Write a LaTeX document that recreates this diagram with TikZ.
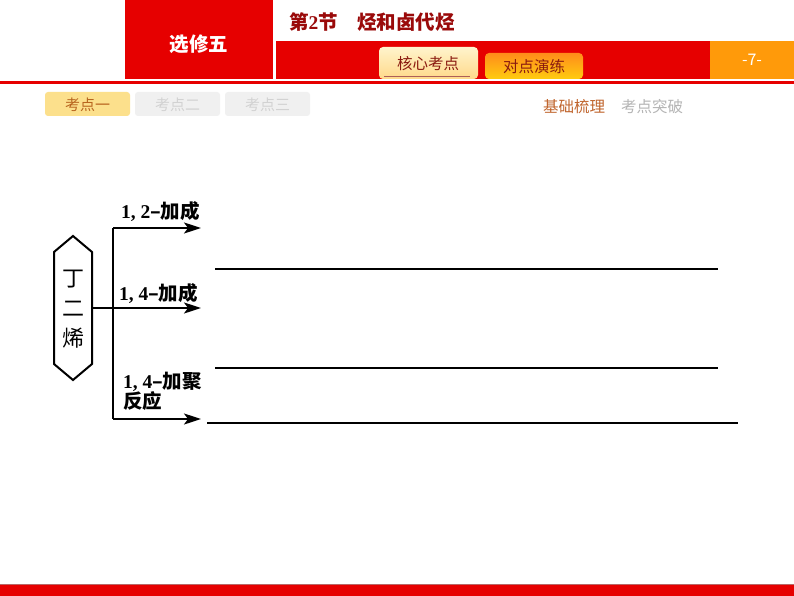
\documentclass[tikz,border=0pt]{standalone}
\usepackage{fontspec}
\setmainfont{Liberation Serif}
\newfontfamily\cjk{Noto Sans CJK SC}
\usetikzlibrary{arrows.meta}
\definecolor{hred}{HTML}{E60000}
\definecolor{hdark}{HTML}{9A0A0A}
\definecolor{tabink}{HTML}{8A1A10}
\definecolor{horange}{HTML}{FF9A0A}
\definecolor{tabyel}{HTML}{FCE08C}
\definecolor{tabtxt}{HTML}{B8651F}
\definecolor{tabgray}{HTML}{F0F0F0}
\definecolor{tabgtxt}{HTML}{D2D2D2}
\definecolor{navon}{HTML}{C0642C}
\definecolor{navoff}{HTML}{B4B4B4}
\definecolor{creamtop}{HTML}{FFF4CC}
\definecolor{creambot}{HTML}{FFD98A}
\definecolor{ortop}{HTML}{FF8C1A}
\definecolor{orbot}{HTML}{FFCC10}
\begin{document}
\begin{tikzpicture}[x=1pt,y=-1pt,
  every node/.style={inner sep=0pt, outer sep=0pt},
  hdrtxt/.style={font=\cjk\bfseries\fontsize{19.5}{22}\selectfont, text=white},
  titletxt/.style={font=\cjk\bfseries\fontsize{19.5}{22}\selectfont, text=hdark},
  toptab/.style={font=\cjk\fontsize{15.5}{17}\selectfont, text=tabink},
  subtab/.style={font=\cjk\fontsize{15}{17}\selectfont},
  navtxt/.style={font=\cjk\fontsize{15.5}{17}\selectfont},
  lbl/.style={font=\bfseries\fontsize{19.5}{21}\selectfont},
  conn/.style={line width=1.8pt, -{Stealth[length=17pt,width=11pt,inset=4pt]}},
  plain/.style={line width=1.8pt},
  blank/.style={line width=1.4pt}
]
\useasboundingbox (0,0) rectangle (794,596);
\fill[white] (0,0) rectangle (794,596);
% header
\fill[hred] (125,0) rectangle (273,79);
\node[hdrtxt] (sec) at (199,44) {选修五};
\node[titletxt, anchor=west] (title) at (289,22) {第{\rmfamily 2}节\hspace{1em}烃和卤代烃};
\fill[hred] (276,41) rectangle (710,79);
\fill[horange] (710,41) rectangle (794,79);
\node[font=\cjk\fontsize{16}{18}\selectfont, text=white] (page) at (752,60) {-7-};
\shade[top color=creamtop, bottom color=creambot, rounded corners=4pt] (379,79) -- (379,47) -- (478,47) -- (478,79) -- cycle;
\node[toptab] (tab1) at (428,64) {核心考点};
\draw[tabink!70, line width=0.8pt] (384,76) -- (470,76);
\shade[top color=ortop, bottom color=orbot, rounded corners=4pt] (485,79) -- (485,53) -- (583,53) -- (583,79) -- cycle;
\node[toptab] (tab2) at (534,67) {对点演练};
\fill[hred] (0,81) rectangle (794,84.5);
% sub tabs
\fill[tabyel, rounded corners=3pt] (45,92) rectangle (130,116);
\node[subtab, text=tabtxt] (k1) at (87.5,104.5) {考点一};
\fill[tabgray, rounded corners=3pt] (135,92) rectangle (220,116);
\node[subtab, text=tabgtxt] (k2) at (177.5,104.5) {考点二};
\fill[tabgray, rounded corners=3pt] (225,92) rectangle (310,116);
\node[subtab, text=tabgtxt] (k3) at (267.5,104.5) {考点三};
\node[navtxt, text=navon] (n1) at (574,107) {基础梳理};
\node[navtxt, text=navoff] (n2) at (652,107) {考点突破};
% bottom bar
\fill[hred] (0,584) rectangle (794,596);
\draw[hred!60!black!60, line width=0.6pt] (0,584) -- (794,584);
% diagram
\node[minimum width=38pt, minimum height=144pt] (hex) at (73,308) {};
\draw[line width=2pt] (hex.north) -- (54,252) -- (54,364) -- (hex.south) -- (92,364) -- (92,252) -- cycle;
\node[font=\cjk\fontsize{22}{30}\selectfont, align=center] (hextxt) at (73,309) {丁\\二\\烯};
\coordinate (hr) at (92,308);
\coordinate (jt) at (113,228);
\coordinate (jm) at (113,308);
\coordinate (jb) at (113,419);
\coordinate (at) at (201,228);
\coordinate (am) at (201,308);
\coordinate (ab) at (201,419);
\draw[plain] (jt) -- (jb);
\draw[conn] (jt) -- (at);
\draw[conn] (hr) -- (am);
\draw[conn] (jb) -- (ab);
\node[lbl, anchor=west] (l1) at (121,212) {1, 2{\cjk –加成}};
\node[lbl, anchor=west] (l2) at (119,294) {1, 4{\cjk –加成}};
\node[lbl, anchor=west, align=left] (l3) at (123,391) {1, 4{\cjk –加聚}\\[-1pt]{\cjk 反应}};
\coordinate (b1a) at (215,269); \coordinate (b1b) at (718,269);
\coordinate (b2a) at (215,368); \coordinate (b2b) at (718,368);
\coordinate (b3a) at (207,423); \coordinate (b3b) at (738,423);
\draw[blank] (b1a) -- (b1b);
\draw[blank] (b2a) -- (b2b);
\draw[blank] (b3a) -- (b3b);
\end{tikzpicture}
\end{document}
